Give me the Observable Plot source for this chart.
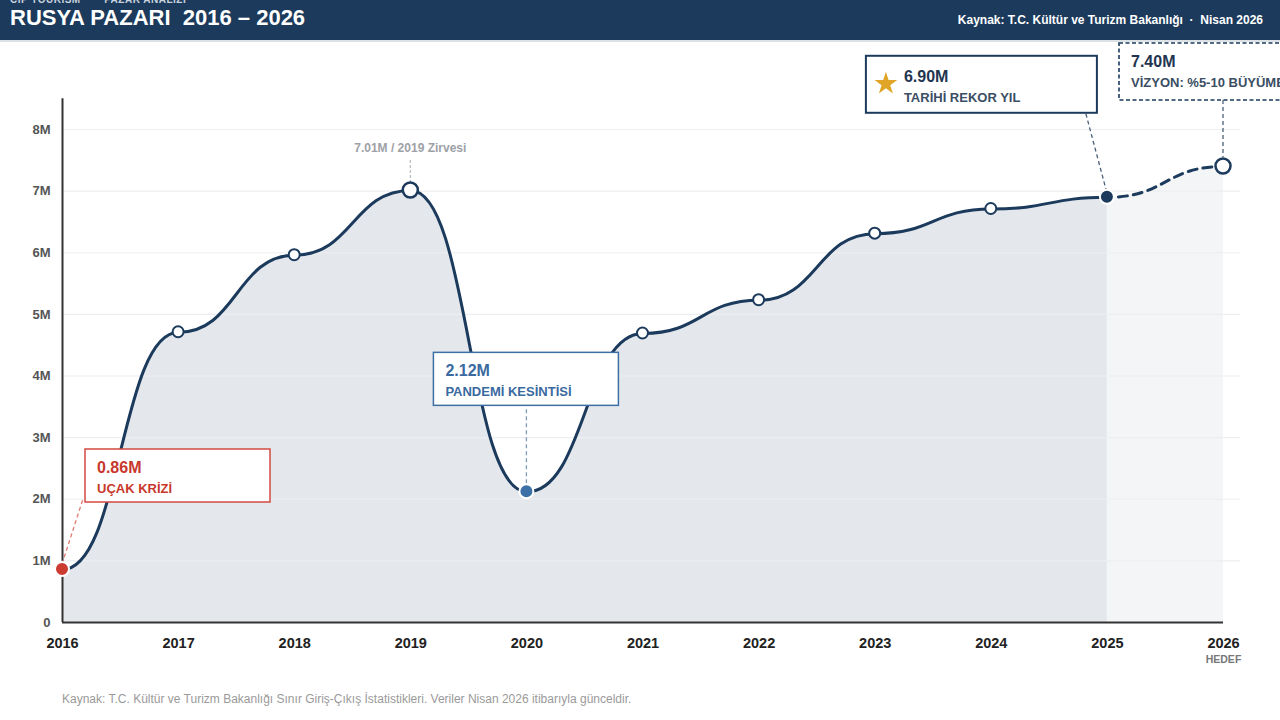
<!DOCTYPE html>
<html><head><meta charset="utf-8">
<script src="https://cdn.jsdelivr.net/npm/d3@7"></script>
<script src="https://cdn.jsdelivr.net/npm/@observablehq/plot@0.6"></script>
<style>
html,body{margin:0;padding:0;background:#fff;width:1280px;height:720px;overflow:hidden;font-family:"Liberation Sans",Arial,sans-serif;}
#header{position:absolute;left:0;top:0;width:1280px;height:40px;background:#1b3a5c;overflow:hidden;}
#kicker{position:absolute;left:10px;top:-6px;font-size:10px;font-weight:bold;color:#c9d3de;letter-spacing:0.5px;white-space:pre;}
#title{position:absolute;left:10px;top:5px;font-size:22px;font-weight:bold;color:#fff;white-space:pre;}
#source{position:absolute;right:17px;top:13px;font-size:12px;font-weight:bold;color:#fff;white-space:pre;}
#hline{position:absolute;left:0;top:40px;width:1280px;height:2px;background:#dde2e7;z-index:2;}
#chart{position:absolute;left:0;top:40px;}
#footer{position:absolute;left:62px;top:692px;font-size:12px;color:#9a9a9a;}
</style></head>
<body>
<div id="header">
  <div id="kicker">CIP TOURISM   ·   PAZAR ANALİZİ</div>
  <div id="title">RUSYA PAZARI  2016 – 2026</div>
  <div id="source">Kaynak: T.C. Kültür ve Turizm Bakanlığı  ·  Nisan 2026</div>
</div>
<div id="chart"></div>
<div id="hline"></div>
<div id="footer">Kaynak: T.C. Kültür ve Turizm Bakanlığı Sınır Giriş-Çıkış İstatistikleri. Veriler Nisan 2026 itibarıyla günceldir.</div>
<script>
const FONT = '"Liberation Sans", Arial, sans-serif';
const NAVY = "#1b3a5c";

// ---- data (millions of Russian visitors) ----
const years    = [2016, 2017, 2018, 2019, 2020, 2021, 2022, 2023, 2024, 2025, 2026];
const visitors = [0.86, 4.71, 5.96, 7.01, 2.12, 4.69, 5.23, 6.31, 6.71, 6.90, 7.40];
const lastActualYear = 2025;
const yTicks      = [0, 1, 2, 3, 4, 5, 6, 7, 8];
const yTickLabels = ["0", "1M", "2M", "3M", "4M", "5M", "6M", "7M", "8M"];
const targetYear  = 2026;
const targetLabel = "HEDEF";
const peakYear    = 2019;
const peakLabel   = "7.01M / 2019 Zirvesi";

const callouts = [
  {year: 2016, value: "0.86M", caption: "UÇAK KRİZİ"},
  {year: 2020, value: "2.12M", caption: "PANDEMİ KESİNTİSİ"},
  {year: 2025, value: "6.90M", caption: "TARİHİ REKOR YIL"},
  {year: 2026, value: "7.40M", caption: "VİZYON: %5-10 BÜYÜME"}
];

const rows = years.map((y, i) => ({year: y, v: visitors[i]}));
const actual = rows.filter(d => d.year <= lastActualYear);
const forecast = rows.filter(d => d.year >= lastActualYear);

const pointStyle = d => {
  if (d.year === 2016) return {fill: "#cc3b30", stroke: "#fff", r: 7, sw: 2};
  if (d.year === 2020) return {fill: "#3d70a6", stroke: "#fff", r: 7, sw: 2};
  if (d.year === 2025) return {fill: NAVY, stroke: "#fff", r: 7, sw: 2};
  if (d.year === 2019 || d.year === 2026) return {fill: "#fff", stroke: NAVY, r: 7.5, sw: 2.5};
  return {fill: "#fff", stroke: NAVY, r: 5.5, sw: 2};
};

const plot = Plot.plot({
  width: 1280,
  height: 640,
  marginTop: 89,
  marginBottom: 58,
  marginLeft: 62,
  marginRight: 57,
  x: {domain: [2016, 2026]},
  y: {domain: [0, 8]},
  style: {fontFamily: FONT, background: "transparent", overflow: "visible"},
  marks: [
    Plot.areaY(actual, {x: "year", y: "v", curve: "bump-x", fill: "#e4e8ed"}),
    Plot.areaY(forecast, {x: "year", y: "v", curve: "bump-x", fill: "#f3f5f7"}),
    Plot.ruleY(yTicks.filter(t => t > 0), {x1: 2016, x2: 2026.15, stroke: "#eceef1", strokeWidth: 1.2}),
    Plot.ruleX([2016], {y1: 0, y2: 8.5, stroke: "#333", strokeWidth: 2}),
    Plot.ruleY([0], {x1: 2016, x2: 2026, stroke: "#333", strokeWidth: 2}),
    Plot.axisY({ticks: yTicks, tickFormat: d => yTickLabels[yTicks.indexOf(d)], tickSize: 0, tickPadding: 12,
      fontSize: 13, fontWeight: "bold", fill: "#555", label: null}),
    Plot.axisX({ticks: years, tickFormat: d => String(d), tickSize: 0, tickPadding: 15,
      fontSize: 14.5, fontWeight: "bold", fill: "#222", label: null}),
    Plot.text([targetYear], {x: d => d, y: 0, text: () => targetLabel, dy: 37, fontSize: 10.5, fontWeight: "bold", fill: "#777"}),
    Plot.line(actual, {x: "year", y: "v", curve: "bump-x", stroke: NAVY, strokeWidth: 3}),
    Plot.line(forecast, {x: "year", y: "v", curve: "bump-x", stroke: NAVY, strokeWidth: 3, strokeDasharray: "9,6", strokeDashoffset: 4})
  ]
});
document.getElementById("chart").appendChild(plot);

const sx = plot.scale("x"), sy = plot.scale("y");
const X = v => sx.apply(v), Y = v => sy.apply(v);
const valueOf = yr => visitors[years.indexOf(yr)];
const svg = d3.select(plot);
const ann = svg.append("g").attr("font-family", FONT).attr("text-anchor", "start");

// peak label
{
  const px = X(peakYear), py = Y(valueOf(peakYear));
  ann.append("line").attr("x1", px).attr("x2", px).attr("y1", py - 30).attr("y2", py - 8)
    .attr("stroke", "#b5b9be").attr("stroke-width", 1.2).attr("stroke-dasharray", "3,2");
  ann.append("text").attr("x", px).attr("y", py - 38).attr("text-anchor", "middle")
    .attr("font-size", 12).attr("font-weight", "bold").attr("fill", "#9da1a6").text(peakLabel);
}

// callout boxes (offsets relative to the anchor point, px)
const calloutStyle = {
  2016: {box: [23, -120, 185, 53], lead: [[0, -5], [21, -70]], stroke: "#d24a40", sw: 1.5, dash: null,
         leadColor: "#e07a72", vColor: "#c9372c", cColor: "#c9372c", tx: 12},
  2020: {box: [-93, -139, 185, 53], lead: [[0, -82], [0, -6]], stroke: "#3d6fa3", sw: 1.5, dash: null,
         leadColor: "#7d9bc0", vColor: "#3a6a9f", cColor: "#3a6a9f", tx: 12},
  2025: {box: [-241, -141, 231, 57], lead: [[-21, -83], [0, -4]], stroke: NAVY, sw: 2, dash: null,
         leadColor: "#4a5f78", vColor: "#1f3550", cColor: "#3b4e63", tx: 38, star: true},
  2026: {box: [-104, -123, 185, 57], lead: [[0, -66], [0, -9]], stroke: NAVY, sw: 1.6, dash: "4,2.5",
         leadColor: "#4a5f78", vColor: "#1f3550", cColor: "#3b4e63", tx: 12}
};
callouts.forEach(c => {
  const s = calloutStyle[c.year];
  const px = X(c.year), py = Y(valueOf(c.year));
  ann.append("line").attr("x1", px + s.lead[0][0]).attr("y1", py + s.lead[0][1])
    .attr("x2", px + s.lead[1][0]).attr("y2", py + s.lead[1][1])
    .attr("stroke", s.leadColor).attr("stroke-width", 1.3).attr("stroke-dasharray", "4,3");
  const bx = px + s.box[0], by = py + s.box[1];
  ann.append("rect").attr("x", bx).attr("y", by).attr("width", s.box[2]).attr("height", s.box[3])
    .attr("fill", "#fff").attr("stroke", s.stroke).attr("stroke-width", s.sw)
    .attr("stroke-dasharray", s.dash);
  if (s.star) {
    ann.append("path").attr("d", d3.symbol(d3.symbolStar, 160)())
      .attr("transform", `translate(${bx + 20},${by + 28})`).attr("fill", "#e0a526");
  }
  const vy = s.star ? 26 : 24, cy = s.star ? 46 : 44;
  ann.append("text").attr("x", bx + s.tx).attr("y", by + vy).attr("font-size", 16).attr("font-weight", "bold")
    .attr("fill", s.vColor).text(c.value);
  ann.append("text").attr("x", bx + s.tx).attr("y", by + cy).attr("font-size", 13).attr("font-weight", "bold")
    .attr("fill", s.cColor).text(c.caption);
});

// points on top
const pts = svg.append("g");
rows.forEach(d => {
  const st = pointStyle(d);
  pts.append("circle").attr("cx", X(d.year)).attr("cy", Y(d.v)).attr("r", st.r)
    .attr("fill", st.fill).attr("stroke", st.stroke).attr("stroke-width", st.sw);
});
</script>
</body></html>
